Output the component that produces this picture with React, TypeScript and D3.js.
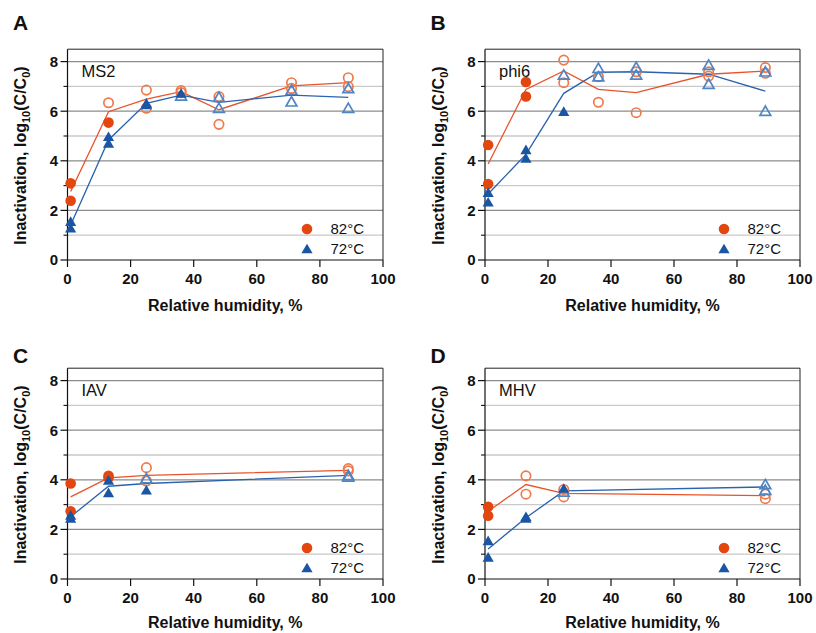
import React from "react";
import * as d3 from "d3";

// ---- data ----
// each point: [relative humidity %, log10 inactivation, open marker (1) / filled (0)]
type Pt = [number, number, number];

const RH_FULL = [1, 13, 25, 36, 48, 71, 89];
const RH_SHORT = [1, 13, 25, 89];
const X_TICKS = [0, 20, 40, 60, 80, 100];
const Y_TICKS = [0, 2, 4, 6, 8];
const Y_MINOR = [1, 3, 5, 7];
const LEGEND = ["82°C", "72°C"];

const ms2Hot: Pt[] = [
  [1, 3.09, 0], [1, 2.39, 0], [13, 5.54, 0], [13, 6.34, 1], [25, 6.85, 1], [25, 6.12, 1],
  [36, 6.83, 1], [36, 6.75, 1], [48, 6.59, 1], [48, 5.47, 1], [71, 7.15, 1], [71, 6.92, 1],
  [89, 7.35, 1], [89, 6.99, 1],
];
const ms2HotMean = [2.76, 5.98, 6.49, 6.79, 6.06, 7.02, 7.15];
const ms2Warm: Pt[] = [
  [1, 1.55, 0], [1, 1.28, 0], [13, 4.97, 0], [13, 4.7, 0], [25, 6.32, 0], [25, 6.25, 0],
  [36, 6.62, 1], [36, 6.72, 0], [48, 6.56, 1], [48, 6.12, 1], [71, 6.85, 1], [71, 6.38, 1],
  [89, 6.92, 1], [89, 6.12, 1],
];
const ms2WarmMean = [1.41, 4.84, 6.32, 6.65, 6.36, 6.65, 6.56];

const phi6Hot: Pt[] = [
  [1, 4.64, 0], [1, 3.06, 0], [13, 7.18, 0], [13, 6.59, 0], [25, 8.06, 1], [25, 7.15, 1],
  [36, 7.39, 1], [36, 6.36, 1], [48, 7.59, 1], [48, 5.94, 1], [71, 7.59, 1], [71, 7.42, 1],
  [89, 7.76, 1], [89, 7.53, 1],
];
const phi6HotMean = [3.87, 6.88, 7.62, 6.88, 6.75, 7.49, 7.62];
const phi6Warm: Pt[] = [
  [1, 2.72, 0], [1, 2.33, 0], [13, 4.44, 0], [13, 4.1, 0], [25, 7.46, 1], [25, 5.98, 0],
  [36, 7.73, 1], [36, 7.39, 1], [48, 7.77, 1], [48, 7.46, 1], [71, 7.86, 1], [71, 7.09, 1],
  [89, 7.59, 1], [89, 6.0, 1],
];
const phi6WarmMean = [2.66, 4.26, 6.72, 7.57, 7.59, 7.49, 6.81];

const iavHot: Pt[] = [
  [1, 3.85, 0], [1, 2.73, 0], [13, 4.16, 0], [13, 4.08, 0], [25, 4.49, 1], [25, 3.95, 1],
  [89, 4.45, 1], [89, 4.36, 1],
];
const iavHotMean = [3.31, 4.08, 4.18, 4.38];
const iavWarm: Pt[] = [
  [1, 2.57, 0], [1, 2.44, 0], [13, 3.98, 0], [13, 3.47, 0], [25, 4.05, 1], [25, 3.58, 0],
  [89, 4.18, 1], [89, 4.12, 1],
];
const iavWarmMean = [2.51, 3.74, 3.85, 4.18];

const mhvHot: Pt[] = [
  [1, 2.91, 0], [1, 2.55, 0], [13, 4.16, 1], [13, 3.42, 1], [25, 3.61, 1], [25, 3.31, 1],
  [89, 3.42, 1], [89, 3.24, 1],
];
const mhvHotMean = [2.73, 3.81, 3.45, 3.36];
const mhvWarm: Pt[] = [
  [1, 1.54, 0], [1, 0.87, 0], [13, 2.51, 0], [13, 2.44, 0], [25, 3.51, 1], [25, 3.65, 0],
  [89, 3.81, 1], [89, 3.58, 1],
];
const mhvWarmMean = [1.21, 2.47, 3.55, 3.71];

// ---- styles ----
const RED = "#E2470F";
const RED_OPEN = "#EE7A4C";
const RED_LINE = "#E8532A";
const BLUE = "#1A56A3";
const BLUE_OPEN = "#4F85C4";
const BLUE_LINE = "#2A62AE";
const FONT = "'Liberation Sans', Arial, Helvetica, sans-serif";

const panels = [
  { letter: "A", name: "MS2", rh: RH_FULL, hot: ms2Hot, hotMean: ms2HotMean, warm: ms2Warm, warmMean: ms2WarmMean, left: 67.5, right: 383, bottom: 260, letterY: 30, titleY: 311 },
  { letter: "B", name: "phi6", rh: RH_FULL, hot: phi6Hot, hotMean: phi6HotMean, warm: phi6Warm, warmMean: phi6WarmMean, left: 485, right: 800, bottom: 260, letterY: 30, titleY: 311 },
  { letter: "C", name: "IAV", rh: RH_SHORT, hot: iavHot, hotMean: iavHotMean, warm: iavWarm, warmMean: iavWarmMean, left: 67.5, right: 383, bottom: 579, letterY: 363, titleY: 628 },
  { letter: "D", name: "MHV", rh: RH_SHORT, hot: mhvHot, hotMean: mhvHotMean, warm: mhvWarm, warmMean: mhvWarmMean, left: 485, right: 800, bottom: 579, letterY: 363, titleY: 628 },
];

const UNIT = 24.8;

function tri(cx: number, cy: number, s: number) {
  const h = s * 0.866;
  return `M${cx},${cy - h * 0.55}L${cx + s / 2},${cy + h * 0.45}L${cx - s / 2},${cy + h * 0.45}Z`;
}

function Panel({ p }: { p: (typeof panels)[number] }) {
  const x = d3.scaleLinear().domain([0, 100]).range([p.left, p.right]);
  const y = d3.scaleLinear().domain([0, 8.5]).range([p.bottom, p.bottom - 8.5 * UNIT]);
  const line = d3
    .line<[number, number]>()
    .x((d) => x(d[0]))
    .y((d) => y(d[1]));
  const hotLine = p.rh.map((r, i) => [r, p.hotMean[i]] as [number, number]);
  const warmLine = p.rh.map((r, i) => [r, p.warmMean[i]] as [number, number]);
  const top = y(8.5);
  const midY = (top + p.bottom) / 2;
  const midX = (p.left + p.right) / 2;
  return (
    <g fontFamily={FONT}>
      {/* grid */}
      {d3.range(1, 9).map((v) => (
        <line key={"g" + v} x1={p.left} x2={p.right} y1={y(v)} y2={y(v)}
          stroke={v % 2 === 0 ? "#8c8c8c" : "#c9c9c9"} strokeWidth={1.3} />
      ))}
      {/* box */}
      <line x1={p.left} x2={p.right} y1={top} y2={top} stroke="#222" strokeWidth={1} />
      <line x1={p.right} x2={p.right} y1={top} y2={p.bottom} stroke="#222" strokeWidth={1} />
      <line x1={p.left} x2={p.left} y1={top} y2={p.bottom} stroke="#111" strokeWidth={1.2} />
      <line x1={p.left} x2={p.right} y1={p.bottom} y2={p.bottom} stroke="#111" strokeWidth={1.2} />
      {/* y ticks */}
      {Y_TICKS.map((v) => (
        <g key={"yt" + v}>
          <line x1={p.left - 7} x2={p.left} y1={y(v)} y2={y(v)} stroke="#111" strokeWidth={1.2} />
          <text x={p.left - 9.5} y={y(v)} dy="0.36em" textAnchor="end" fontSize={15} fontWeight="bold" fill="#111">{v}</text>
        </g>
      ))}
      {Y_MINOR.map((v) => (
        <line key={"ym" + v} x1={p.left - 4} x2={p.left} y1={y(v)} y2={y(v)} stroke="#111" strokeWidth={1.1} />
      ))}
      {/* x ticks */}
      {X_TICKS.map((v) => (
        <g key={"xt" + v}>
          <line x1={x(v)} x2={x(v)} y1={p.bottom} y2={p.bottom + 7} stroke="#111" strokeWidth={1.2} />
          <text x={x(v)} y={p.bottom + 24} textAnchor="middle" fontSize={15} fontWeight="bold" fill="#111">{v}</text>
        </g>
      ))}
      {/* axis titles */}
      <text x={midX} y={p.titleY} textAnchor="middle" fontSize={16} fontWeight="bold" fill="#111">Relative humidity, %</text>
      <text transform={`translate(${p.left - 41.5},${midY + 1}) rotate(-90)`} textAnchor="middle" fontSize={16} fontWeight="bold" fill="#111">
        Inactivation, log<tspan fontSize={11} dy={4}>10</tspan><tspan dy={-4}>(C/C</tspan><tspan fontSize={11} dy={4}>0</tspan><tspan dy={-4}>)</tspan>
      </text>
      {/* panel letter & name */}
      <text x={p.left - 54.5} y={p.letterY} fontSize={21} fontWeight="bold" fill="#111">{p.letter}</text>
      <text x={p.left + 14} y={top + 28} fontSize={16.5} fill="#111">{p.name}</text>
      {/* mean lines */}
      <path d={line(hotLine) || ""} fill="none" stroke={RED_LINE} strokeWidth={1.3} />
      <path d={line(warmLine) || ""} fill="none" stroke={BLUE_LINE} strokeWidth={1.3} />
      {/* markers 82 */}
      {p.hot.map((d, i) =>
        d[2] ? (
          <circle key={"h" + i} cx={x(d[0])} cy={y(d[1])} r={4.7} fill="none" stroke={RED_OPEN} strokeWidth={1.7} />
        ) : (
          <circle key={"h" + i} cx={x(d[0])} cy={y(d[1])} r={5.3} fill={RED} />
        )
      )}
      {/* markers 72 */}
      {p.warm.map((d, i) =>
        d[2] ? (
          <path key={"w" + i} d={tri(x(d[0]), y(d[1]), 10.8)} fill="none" stroke={BLUE_OPEN} strokeWidth={1.7} strokeLinejoin="miter" />
        ) : (
          <path key={"w" + i} d={tri(x(d[0]), y(d[1]), 11.2)} fill={BLUE} />
        )
      )}
      {/* legend */}
      <circle cx={p.right - 76} cy={p.bottom - 31} r={5.3} fill={RED} />
      <path d={tri(p.right - 76, p.bottom - 11, 11.2)} fill={BLUE} />
      <text x={p.right - 52.5} y={p.bottom - 31} dy="0.36em" fontSize={15} fill="#111">{LEGEND[0]}</text>
      <text x={p.right - 52.5} y={p.bottom - 11} dy="0.36em" fontSize={15} fill="#111">{LEGEND[1]}</text>
    </g>
  );
}

export default function App() {
  return (
    <svg width={816} height={633} style={{ position: "absolute", left: 0, top: 0, background: "#fff" }}>
      <rect width={816} height={633} fill="#fff" />
      {panels.map((p) => (
        <Panel key={p.letter} p={p} />
      ))}
    </svg>
  );
}
